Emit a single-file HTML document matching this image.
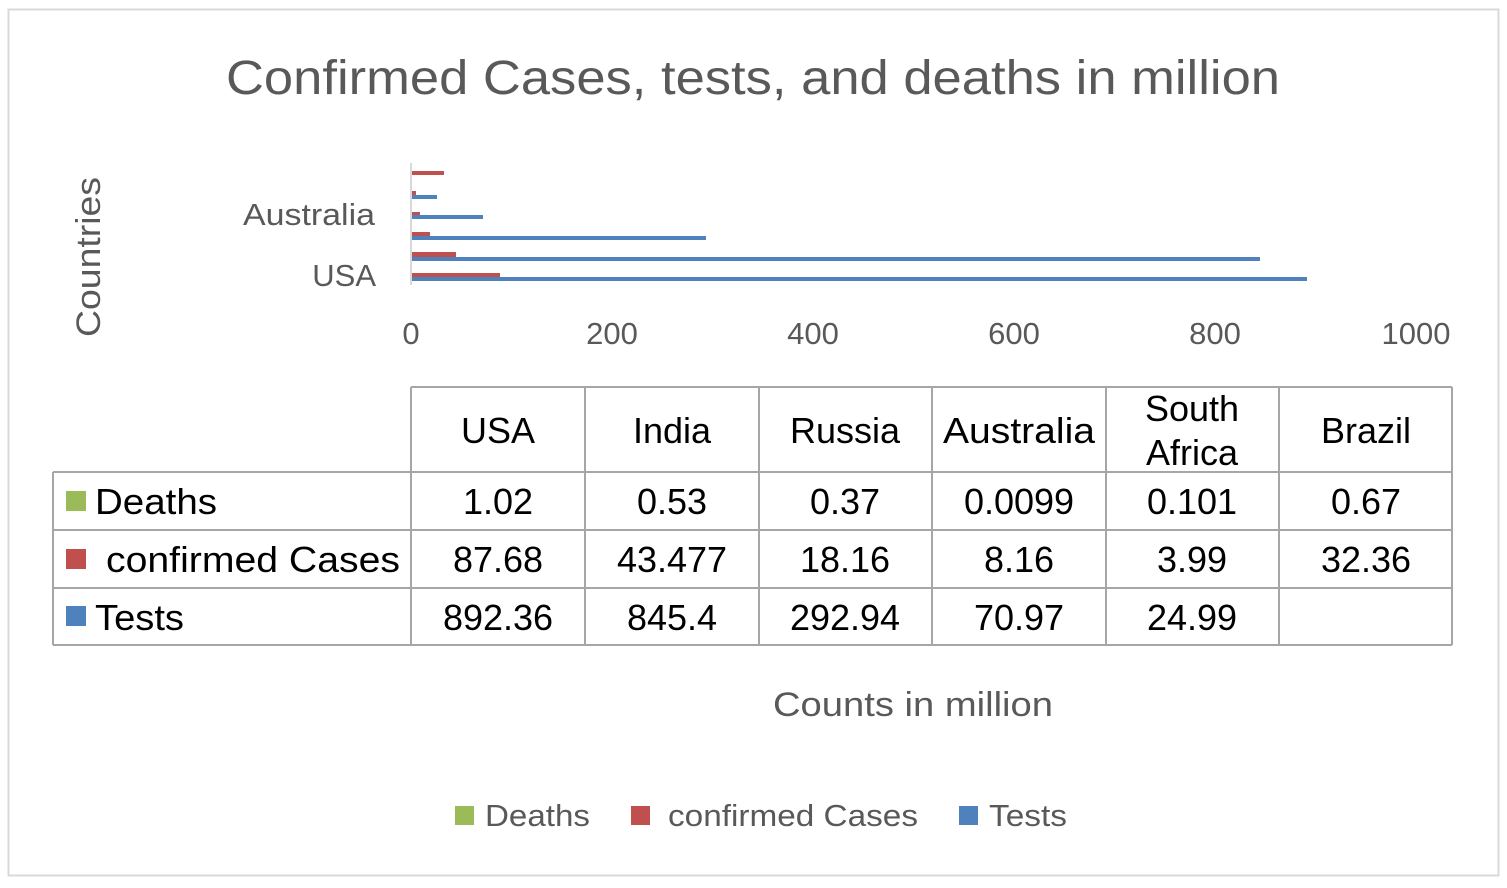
<!DOCTYPE html>
<html><head><meta charset="utf-8"><style>
body{margin:0;background:#fff;}
svg text{font-family:"Liberation Sans","Noto Sans CJK SC",sans-serif;}
</style></head><body>
<svg width="1507" height="883" xmlns="http://www.w3.org/2000/svg">
<rect x="0" y="0" width="1507" height="883" fill="#fff"/>
<rect x="8.5" y="9.5" width="1490" height="866" fill="#fff" stroke="#d9d9d9" stroke-width="2"/>
<text x="226" y="94" font-size="48" fill="#595959" textLength="1054" lengthAdjust="spacingAndGlyphs">Confirmed Cases, tests, and deaths in million</text>
<text transform="translate(100,257) rotate(-90)" text-anchor="middle" font-size="34" fill="#595959" textLength="160" lengthAdjust="spacingAndGlyphs">Countries</text>
<text x="243" y="225" font-size="31" fill="#595959" textLength="132" lengthAdjust="spacingAndGlyphs">Australia</text>
<text x="376" y="286" text-anchor="end" font-size="31" fill="#595959">USA</text>
<line x1="411" y1="163" x2="411" y2="285" stroke="#d9d9d9" stroke-width="2"/>
<g fill="#c0504d">
<rect x="412" y="171" width="32" height="4"/>
<rect x="412" y="191" width="4" height="4"/>
<rect x="412" y="212" width="8" height="4"/>
<rect x="412" y="232" width="18" height="4"/>
<rect x="412" y="252" width="44" height="5"/>
<rect x="412" y="273" width="88" height="4"/>
</g>
<g fill="#4f81bd">
<rect x="412" y="195" width="25" height="4"/>
<rect x="412" y="215" width="71" height="4"/>
<rect x="412" y="236" width="294" height="4"/>
<rect x="412" y="257" width="848" height="4"/>
<rect x="412" y="277" width="895" height="4"/>
</g>
<g font-size="31" fill="#595959" text-anchor="middle">
<text x="411" y="344">0</text><text x="612" y="344">200</text><text x="813" y="344">400</text>
<text x="1014" y="344">600</text><text x="1215" y="344">800</text><text x="1416" y="344">1000</text>
</g>
<g stroke="#a6a6a6" stroke-width="2" fill="none">
<line x1="411" y1="387" x2="1452" y2="387"/>
<line x1="53" y1="472" x2="1452" y2="472"/>
<line x1="53" y1="530" x2="1452" y2="530"/>
<line x1="53" y1="588" x2="1452" y2="588"/>
<line x1="53" y1="645" x2="1452" y2="645"/>
<line x1="53" y1="472" x2="53" y2="645"/>
<line x1="411" y1="387" x2="411" y2="645"/>
<line x1="585" y1="387" x2="585" y2="645"/>
<line x1="759" y1="387" x2="759" y2="645"/>
<line x1="932" y1="387" x2="932" y2="645"/>
<line x1="1106" y1="387" x2="1106" y2="645"/>
<line x1="1279" y1="387" x2="1279" y2="645"/>
<line x1="1452" y1="387" x2="1452" y2="645"/>
</g>
<g font-size="36" fill="#000" text-anchor="middle">
<text x="498" y="443">USA</text><text x="672" y="443">India</text><text x="845" y="443">Russia</text>
<text x="1019" y="443" textLength="152" lengthAdjust="spacingAndGlyphs">Australia</text><text x="1192" y="421">South</text><text x="1192" y="465">Africa</text>
<text x="1366" y="443">Brazil</text>
<text x="498" y="514">1.02</text><text x="672" y="514">0.53</text><text x="845" y="514">0.37</text>
<text x="1019" y="514">0.0099</text><text x="1192" y="514">0.101</text><text x="1366" y="514">0.67</text>
<text x="498" y="572">87.68</text><text x="672" y="572">43.477</text><text x="845" y="572">18.16</text>
<text x="1019" y="572">8.16</text><text x="1192" y="572">3.99</text><text x="1366" y="572">32.36</text>
<text x="498" y="630">892.36</text><text x="672" y="630">845.4</text><text x="845" y="630">292.94</text>
<text x="1019" y="630">70.97</text><text x="1192" y="630">24.99</text>
</g>
<rect x="66" y="491" width="20" height="20" fill="#9bbb59"/>
<rect x="66" y="549" width="20" height="20" fill="#c0504d"/>
<rect x="66" y="606" width="20" height="20" fill="#4f81bd"/>
<g font-size="36" fill="#000">
<text x="95" y="514" textLength="122" lengthAdjust="spacingAndGlyphs">Deaths</text>
<text x="106" y="572" textLength="294" lengthAdjust="spacingAndGlyphs">confirmed Cases</text>
<text x="95" y="630" textLength="89" lengthAdjust="spacingAndGlyphs">Tests</text>
</g>
<text x="773" y="716" font-size="34" fill="#595959" textLength="280" lengthAdjust="spacingAndGlyphs">Counts in million</text>
<rect x="455" y="806" width="19" height="19" fill="#9bbb59"/>
<text x="485" y="826" font-size="31" fill="#595959" textLength="105" lengthAdjust="spacingAndGlyphs">Deaths</text>
<rect x="631" y="806" width="19" height="19" fill="#c0504d"/>
<text x="668" y="826" font-size="31" fill="#595959" textLength="250" lengthAdjust="spacingAndGlyphs">confirmed Cases</text>
<rect x="959" y="806" width="19" height="19" fill="#4f81bd"/>
<text x="989" y="826" font-size="31" fill="#595959" textLength="78" lengthAdjust="spacingAndGlyphs">Tests</text>
</svg>
</body></html>
